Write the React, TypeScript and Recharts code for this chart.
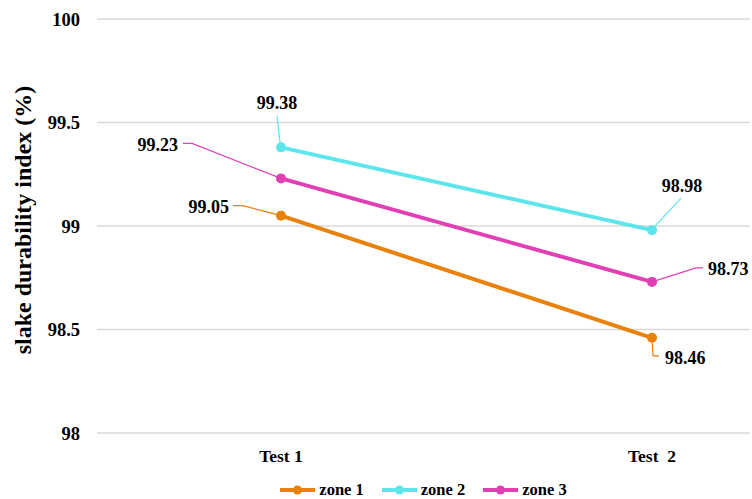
import React from 'react';
import { LineChart, Line, XAxis, YAxis, CartesianGrid, LabelList, Legend } from 'recharts';

const categories = ['Test 1', 'Test\u00a0\u00a02'];
const zone1 = [99.05, 98.46];
const zone2 = [99.38, 98.98];
const zone3 = [99.23, 98.73];
const yTicks = [98, 98.5, 99, 99.5, 100];
const seriesKeys = ['zone1', 'zone2', 'zone3'];
const seriesNames = ['zone 1', 'zone 2', 'zone 3'];
const seriesColors = ['#E8820C', '#5CE6EC', '#E040B4'];

const data = categories.map((c, i) => ({
  name: c,
  zone1: zone1[i],
  zone2: zone2[i],
  zone3: zone3[i],
}));

const FONT = '"Liberation Serif", "Times New Roman", serif';

type Leader = { pts: number[][]; tx: number; ty: number; anchor: 'start' | 'middle' | 'end' };
const leaders: Record<string, Leader[]> = {
  zone1: [
    { pts: [[0, 0], [-38, -10], [-48, -10]], tx: -52, ty: -9, anchor: 'end' },
    { pts: [[0, 0], [1, 18], [7, 18]], tx: 13, ty: 20, anchor: 'start' },
  ],
  zone2: [
    { pts: [[0, 0], [-1, -5], [-4, -31]], tx: -4, ty: -44, anchor: 'middle' },
    { pts: [[3, -4], [29, -32]], tx: 30, ty: -44, anchor: 'middle' },
  ],
  zone3: [
    { pts: [[0, 0], [-89, -35], [-98, -35]], tx: -103, ty: -33, anchor: 'end' },
    { pts: [[0, 0], [44, -14], [51, -14]], tx: 56, ty: -13, anchor: 'start' },
  ],
};

const makeLabel = (key: string, color: string) => (props: any) => {
  const { x, y, value, index } = props;
  const cfg = leaders[key][index];
  if (!cfg || x == null || y == null) return null;
  const d = cfg.pts.map((p, i) => `${i === 0 ? 'M' : 'L'}${x + p[0]},${y + p[1]}`).join(' ');
  return (
    <g>
      <path d={d} stroke={color} strokeWidth={1.2} fill="none" />
      <text
        x={x + cfg.tx}
        y={y + cfg.ty}
        textAnchor={cfg.anchor}
        dominantBaseline="central"
        fontFamily={FONT}
        fontWeight="bold"
        fontSize={18}
        fill="#000"
      >
        {value}
      </text>
    </g>
  );
};

const LegendContent = () => (
  <div
    style={{
      marginLeft: 97,
      width: 653,
      height: 30,
      paddingTop: 12,
      boxSizing: 'border-box',
      display: 'flex',
      justifyContent: 'center',
      alignItems: 'center',
      fontFamily: FONT,
      fontWeight: 'bold',
      fontSize: 16.5,
      color: '#000',
    }}
  >
    {seriesNames.map((n, i) => (
      <div key={n} style={{ display: 'flex', alignItems: 'center', marginRight: i < 2 ? 18 : 0 }}>
        <svg width={35} height={10} style={{ marginRight: 4 }}>
          <line x1={0} y1={5} x2={35} y2={5} stroke={seriesColors[i]} strokeWidth={4} />
          <circle cx={17.5} cy={5} r={4.5} fill={seriesColors[i]} />
        </svg>
        <span>{n}</span>
      </div>
    ))}
  </div>
);

const YLabel = (props: any) => {
  const vb = props.viewBox || {};
  const cy = (vb.y ?? 19) + (vb.height ?? 414) / 2 - 6;
  const cx = 23;
  return (
    <text
      x={cx}
      y={cy}
      transform={`rotate(-90 ${cx} ${cy})`}
      textAnchor="middle"
      dominantBaseline="central"
      fontFamily={FONT}
      fontWeight="bold"
      fontSize={24}
      fill="#000"
    >
      slake durability index (%)
    </text>
  );
};

export default function App() {
  return (
    <div style={{ position: 'absolute', left: 0, top: 0, background: '#fff' }}>
      <LineChart width={752} height={499} data={data} margin={{ top: 19, right: 2, left: 0, bottom: 0 }}>
        <CartesianGrid horizontal vertical={false} stroke="#d9d9d9" strokeWidth={1.5} />
        <XAxis
          dataKey="name"
          padding={{ left: 184, right: 98 }}
          axisLine={false}
          tickLine={false}
          tickSize={0}
          tickMargin={17}
          height={36}
          tick={{ fontFamily: FONT, fontWeight: 'bold', fontSize: 17.5, fill: '#000' }}
          interval={0}
        />
        <YAxis
          domain={[98, 100]}
          ticks={yTicks}
          axisLine={false}
          tickLine={false}
          tickSize={0}
          tickMargin={17}
          width={97}
          tick={{ fontFamily: FONT, fontWeight: 'bold', fontSize: 18.5, fill: '#000' }}
          label={{ content: YLabel }}
        />
        <Legend verticalAlign="bottom" height={30} content={LegendContent} wrapperStyle={{ left: 0, width: 752 }} />
        {seriesKeys.map((k, i) => (
          <Line
            key={k}
            type="linear"
            dataKey={k}
            name={seriesNames[i]}
            stroke={seriesColors[i]}
            strokeWidth={4}
            dot={{ r: 5, fill: seriesColors[i], stroke: seriesColors[i], strokeWidth: 0 }}
            activeDot={false}
            isAnimationActive={false}
          >
            <LabelList dataKey={k} content={makeLabel(k, seriesColors[i])} />
          </Line>
        ))}
      </LineChart>
    </div>
  );
}
